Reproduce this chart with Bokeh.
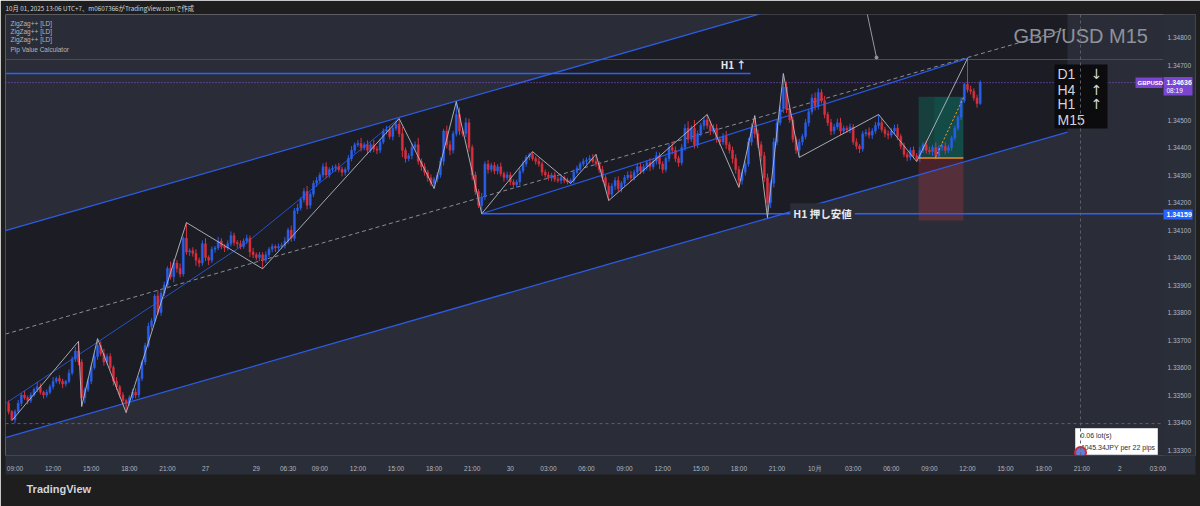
from bokeh.plotting import figure
from bokeh.models import (ColumnDataSource, FixedTicker, Label, LinearAxis, Range1d,
                          NumeralTickFormatter, Span, Title, BoxAnnotation)
from bokeh.core.properties import value
from bokeh.embed import file_html
from bokeh.resources import INLINE

# ---------------- data (GBP/USD M15) ----------------
# prices are in pips above BASE
BASE = 1.33
FIRST_BAR = -2          # bar index of first candle (09:00 Sep 26 = bar 0)
FIRST_OPEN = 47.0
CLOSE = [
    44, 41, 44, 47, 50, 49, 48, 50, 52, 53,
    51, 50, 51, 53, 55, 56, 55, 54, 55, 58,
    63, 66, 62, 49, 52, 55, 60, 64, 68, 65,
    62, 64, 60, 55, 53, 50, 48, 47, 49, 51,
    50, 56, 62, 68, 75, 77, 86, 80, 87, 90,
    96, 93, 98, 96, 94, 107, 102, 102.5, 101.5, 99,
    98, 105, 100, 99, 103, 103.5, 106, 104, 103.5, 105,
    108, 105.5, 105, 104, 106, 107, 102, 101, 100, 101,
    99, 101, 103, 104, 103.5, 104, 104.5, 106, 110, 107,
    117, 118, 121, 124, 119, 123, 127, 128, 130, 133,
    130, 132, 132.5, 133, 132, 131, 132, 136, 139, 141,
    141.5, 140, 141, 139, 141, 139.5, 139, 142, 146, 146.5,
    144, 147, 148.5, 145, 139, 136, 137, 140, 141, 135,
    133, 131, 129, 127, 128.5, 130, 135, 146, 141, 139,
    145, 152, 146, 145, 149, 140, 130, 124, 119, 122,
    134, 132, 133.5, 131.5, 133, 130.5, 129, 130, 127.5, 126.5,
    127.5, 131.5, 134, 136.5, 137.5, 136, 135, 134, 131, 130,
    129, 130, 128.5, 128, 129, 128, 127.5, 128, 131, 132.5,
    134, 135, 135.5, 136, 135, 134, 132, 129, 126, 123,
    126, 128, 125, 127, 129, 130, 129, 131, 133, 131.5,
    133, 134.5, 133, 135, 137, 134, 132, 136, 140, 139,
    136, 134.5, 140, 147, 143, 147, 141, 145, 148, 150,
    148, 146, 147, 143, 142, 144, 141, 139, 136, 132,
    128, 131, 134, 142, 147, 145, 141, 137, 129, 120,
    127, 142, 149, 154, 162, 154, 150, 143, 139, 142,
    144, 149, 153, 158, 155, 160, 157, 152, 149, 146,
    147.5, 149, 146, 147, 146.5, 147.5, 142, 140.5, 139.5, 145,
    145.5, 144.5, 146, 148, 149, 146.5, 145, 144.5, 146, 147,
    144, 140.5, 137.5, 136.5, 139, 137, 136, 139, 141, 139,
    138.5, 140, 137, 140, 140.5, 139, 140, 143.5, 147, 151,
    157, 163, 161, 160.5, 158, 156, 163.6,
]
UPPER_WICK = [
    1, 0.5, 0.8, 1.2, 0.6, 1.5, 0.8, 1, 0.7, 1.8,
    1.2, 0.6, 1, 0.8, 1.5, 0.7, 1.2, 0.9, 0.5, 1.3,
    1, 1.4, 3.5, 1, 0.8, 1.2, 0.9, 1.1, 2.5, 1.5,
    1.8, 1, 1.2, 0.8, 1.5, 0.7, 1, 0.6, 0.9, 1.2,
    1.5, 0.8, 0.6, 1, 1.3, 0.9, 0.7, 2, 1, 1.2,
    0.8, 2.5, 1.5, 1, 1.8, 0.6, 5.7, 0.8, 1.2, 1.5,
    1, 1.2, 2, 0.8, 1, 0.7, 1.5, 1, 0.8, 1.2,
    1.5, 1, 0.8, 1.2, 0.9, 1.3, 1, 1.5, 0.8, 1,
    0.9, 1.2, 0.8, 1, 0.7, 1.1, 0.9, 1.4, 0.8, 1.6,
    1, 1.5, 0.9, 1.2, 2, 0.8, 1, 1.3, 0.9, 1.2,
    1.6, 0.8, 1, 0.9, 1.4, 1, 0.8, 1.2, 1.5, 0.8,
    1.2, 2, 0.9, 1.6, 0.8, 1.8, 1, 1.2, 0.9, 1.4,
    1.2, 0.8, 1, 2, 2.5, 1, 0.9, 1.5, 1.2, 2.5,
    1, 1.3, 0.9, 1.2, 0.8, 1, 1.4, 0.8, 2, 1.5,
    1, 4.7, 2.5, 1.2, 1.8, 1.5, 1, 1.2, 0.9, 1.5,
    1, 1.4, 0.9, 1.2, 1, 1.5, 0.8, 1.2, 1, 0.9,
    0.8, 1, 1.2, 0.7, 0.6, 1, 0.8, 1.2, 0.9, 1,
    1.2, 0.8, 1, 0.9, 1.1, 0.8, 1, 0.7, 1, 0.9,
    0.8, 1, 0.9, 1.2, 1.6, 2.5, 1, 1.3, 0.9, 1.2,
    1, 1.2, 1.5, 0.8, 1, 1.3, 1.5, 0.9, 1.2, 1.5,
    1, 0.8, 1.6, 1, 1.5, 1.2, 1, 0.8, 1.5, 2,
    1.4, 1, 1.2, 1.5, 2.5, 1, 3, 1.2, 1, 1.2,
    2, 1.8, 1.4, 1.5, 1, 1.2, 2, 1, 1.3, 1.5,
    1.2, 1, 0.9, 1.5, 1.8, 4.6, 1.5, 1.2, 1.4, 1.5,
    1, 1.5, 1, 1.2, 4.9, 2, 1.5, 1.3, 1, 1.2,
    1, 1.3, 0.9, 1.5, 2, 1.5, 1.2, 1.8, 1, 1.4,
    1, 1.5, 1.8, 1, 0.9, 1.2, 1, 1.3, 0.8, 1,
    1.2, 1.8, 1, 1.3, 3, 1.5, 1, 1.2, 1, 1.3,
    1.5, 1, 1.2, 0.9, 1.1, 1.4, 1, 1.2, 0.9, 1.5,
    1.3, 1, 1.8, 0.9, 1.2, 1.4, 1, 0.8, 1, 0.7,
    1, 0.5, 9.4, 1.5, 1, 1.2, 0.8,
]
LOWER_WICK = [
    1, 0.3, 1.2, 0.8, 1, 0.7, 1.4, 0.9, 0.6, 1,
    0.8, 1.3, 0.9, 0.7, 1, 0.8, 1.1, 1.5, 0.9, 0.7,
    0.8, 1, 1.2, 3, 2, 0.9, 1, 0.8, 1.2, 0.9,
    1.3, 1, 0.8, 1.5, 1.2, 1, 1.5, 3.4, 1, 0.8,
    1.2, 1, 0.9, 1.1, 0.8, 1.5, 1, 0.9, 1.2, 1,
    1.3, 1, 2, 1.5, 1.2, 0.9, 1, 1.5, 1.2, 2,
    1.5, 1, 1.3, 1.8, 1, 1.2, 0.8, 1, 1.5, 0.9,
    1, 1.2, 1.5, 1, 0.8, 1, 1.8, 1.2, 1, 1.3,
    3.1, 1, 0.9, 1.1, 1.5, 1, 0.8, 1.2, 1, 1.3,
    1, 1.2, 0.9, 1, 1.5, 1.2, 1, 1.3, 0.8, 1,
    1.2, 1, 0.9, 1.3, 1, 1.5, 1.2, 0.9, 1, 1.1,
    0.8, 1.4, 1, 1.5, 0.9, 1.2, 1.4, 1, 0.8, 1.2,
    1, 1.4, 0.9, 1.2, 2.5, 1.5, 1, 1.3, 1, 1.2,
    1.5, 1.2, 1.4, 1, 1.9, 1.2, 1, 1.5, 1.3, 1.8,
    1.2, 1, 1.5, 1, 1.2, 1.5, 1.8, 1.2, 1, 3.1,
    1.2, 1.5, 1, 1.2, 1.3, 1, 1.4, 0.9, 1.2, 1,
    1, 1.2, 0.9, 1, 1.1, 0.8, 1.2, 1, 1.3, 0.9,
    1, 1.3, 1, 0.8, 1.2, 1, 0.9, 0.6, 1, 0.8,
    1, 0.9, 1.2, 1, 0.8, 1, 1.2, 1.4, 1.2, 2.3,
    1.2, 1.5, 1, 1.3, 1, 0.9, 1.2, 1, 1.5, 1.2,
    1, 1.3, 1.5, 1, 1.2, 1.8, 1.4, 1, 1.2, 1.5,
    1.3, 1.5, 1, 1.2, 1.5, 1, 1.4, 1.2, 1, 1.5,
    1.2, 1.5, 1, 1.3, 1.2, 1, 1.5, 1.2, 1.8, 1.5,
    2.5, 1.5, 1.2, 1, 1.3, 1.5, 1.2, 2, 1.5, 5.5,
    2, 1.5, 1.2, 1, 1.4, 1.5, 1, 1.2, 1.3, 2.6,
    1.2, 1, 1.3, 1, 1.5, 1.2, 1, 1.4, 1.2, 1.5,
    1.2, 1, 1.4, 1, 1.2, 1.3, 1, 1.2, 1.5, 1,
    1, 1.2, 1.4, 1, 1.2, 1, 1.3, 1.5, 1, 1.2,
    1.3, 1.2, 1, 1.5, 1.2, 1, 1.1, 1.3, 1, 1.2,
    1, 1.5, 1.3, 1, 1.2, 1.5, 1, 1.2, 1, 0.8,
    1, 0.8, 1, 1.2, 1, 1.5, 0.5,
]

# ZigZag++ pivots (bar index, price)
ZZ_BARS = [-1, 20, 21, 26, 35, 54, 78, 121, 132, 139, 147, 163, 175, 183, 187,
           218, 228, 233, 237, 242, 247, 272, 284, 300]
ZZ_PRICE = [1.33407, 1.33695, 1.33458, 1.33705, 1.33436, 1.34127, 1.33959, 1.34505,
            1.34251, 1.34567, 1.34159, 1.34385, 1.34269, 1.34375, 1.34207, 1.34520,
            1.34255, 1.34516, 1.34145, 1.34669, 1.34364, 1.34520, 1.34349, 1.34724]

# parallel channel
CH_BARS = [-3, 331.5]
CH_UPPER = [1.34098, 1.35207]
CH_LOWER = [1.33345, 1.34456]

# trend lines
TL1_BARS = [-3, 72.6, 120.8]
TL1_PRICE = [1.33469, 1.34051, 1.34505]
TL2_BARS = [147, 300]
TL2_PRICE = [1.34159, 1.34724]

H1_HIGH = 1.34669
H1_LOW = 1.34159
LAST_PRICE = 1.34636
TOP_LINE = 1.34720
CROSS_BAR = 335.6
CROSS_PRICE = 1.33396

# long position tool
POS_START, POS_MID, POS_END = 284.6, 289.6, 298.7
POS_TP, POS_ENTRY, POS_SL = 1.34585, 1.34362, 1.34135

TIME_TICKS = [0, 12, 24, 36, 48, 60, 76, 86, 96, 108, 120, 132, 144, 156, 168, 180,
              192, 204, 216, 228, 240, 252, 264, 276, 288, 300, 312, 324, 336, 348, 360]
TIME_LABELS = ["09:00", "12:00", "15:00", "18:00", "21:00", "27", "29", "06:30",
               "09:00", "12:00", "15:00", "18:00", "21:00", "30", "03:00", "06:00",
               "09:00", "12:00", "15:00", "18:00", "21:00", "10月", "03:00", "06:00",
               "09:00", "12:00", "15:00", "18:00", "21:00", "2", "03:00"]
PRICE_TICKS = [1.333, 1.334, 1.335, 1.336, 1.337, 1.338, 1.339, 1.340,
               1.341, 1.342, 1.343, 1.344, 1.345, 1.346, 1.347, 1.348]

TF_NAMES = ["D1", "H4", "H1", "M15"]
TF_ARROWS = ["↓", "↑", "↑"]
LEGEND_LINES = ["ZigZag++ [LD]", "ZigZag++ [LD]", "ZigZag++ [LD]", "Pip Value Calculator"]
HEADER = "10月 01, 2025 13:06 UTC+7、m0607366がTradingView.comで作成"

# ---------------- helpers (layout only: reference pixel -> data) ----------------
def px2x(X):
    return (X - 14.5) / 3.175

def py2y(Y):
    return 1.348 - (Y - 37) / 27500.0

UP_COL = "#2a5fea"
DN_COL = "#d8303e"
BG_OUT = "#2a2d38"
BG_IN = "#1c1d24"
AX_BG = "#2a2e39"
PURPLE = "#7a45d0"
FONT = "Liberation Sans"
JP = "Noto Sans CJK JP"

# ---------------- candles ----------------
opens, highs, lows, closes, xs, cols = [], [], [], [], [], []
prev = FIRST_OPEN
for k, c in enumerate(CLOSE):
    o = prev
    xs.append(FIRST_BAR + k)
    opens.append(BASE + o / 10000)
    closes.append(BASE + c / 10000)
    highs.append(BASE + (max(o, c) + UPPER_WICK[k]) / 10000)
    lows.append(BASE + (min(o, c) - LOWER_WICK[k]) / 10000)
    cols.append(UP_COL if c >= o else DN_COL)
    prev = c
src = ColumnDataSource(dict(x=xs, o=opens, h=highs, l=lows, c=closes, col=cols,
                            top=[max(a, b) for a, b in zip(opens, closes)],
                            bot=[min(a, b) for a, b in zip(opens, closes)]))

X0, X1 = px2x(5), px2x(1195)
p = figure(width=1200, height=506, x_range=Range1d(X0, X1),
           y_range=Range1d(py2y(455), py2y(14)), output_backend="svg",
           toolbar_location=None, x_axis_location=None, y_axis_location=None,
           min_border_left=5, min_border_right=5, min_border_top=14,
           min_border_bottom=51)
p.background_fill_color = BG_OUT
p.border_fill_color = "#1e1e1e"
p.outline_line_color = None
p.grid.grid_line_color = None

p.title.text = HEADER
p.title.align = "left"
p.title.text_font = JP
p.title.text_font_size = "6.3px"
p.title.text_font_style = "normal"
p.title.text_color = "#d1d4dc"
p.title.standoff = 3
p.title.offset = 0

xaxis = LinearAxis(ticker=FixedTicker(ticks=TIME_TICKS),
                   major_label_overrides=dict(zip(TIME_TICKS, TIME_LABELS)))
yaxis = LinearAxis(ticker=FixedTicker(ticks=PRICE_TICKS),
                   formatter=NumeralTickFormatter(format="0.00000"))
for ax in (xaxis, yaxis):
    ax.axis_line_color = None
    ax.major_tick_line_color = None
    ax.minor_tick_line_color = None
    ax.major_tick_out = 0
    ax.major_tick_in = 0
    ax.major_label_text_font_size = "6.5px"
    ax.major_label_text_color = "#b2b5be"
    ax.major_label_text_font = FONT
xaxis.background_fill_color = AX_BG
xaxis.major_label_standoff = 9
yaxis.major_label_standoff = -28
p.add_layout(xaxis, "below")
p.add_layout(yaxis, "right")
p.add_layout(Title(text="TradingView", align="left", offset=21, standoff=12,
                   text_font=FONT, text_font_size="11px", text_font_style="bold",
                   text_color="#d1d4dc"), "below")

# channel fill
p.patch([CH_BARS[0], CH_BARS[1], CH_BARS[1], CH_BARS[0]],
        [CH_UPPER[0], CH_UPPER[1], CH_LOWER[1], CH_LOWER[0]],
        fill_color=BG_IN, line_color=None)

# horizontal references
p.line([X0, px2x(1163)], [TOP_LINE, TOP_LINE], line_color="#4a4d58", line_width=1)
p.line([X0, px2x(1163)], [CROSS_PRICE, CROSS_PRICE], line_color="#5d606b",
       line_width=1, line_dash="3 3")
p.add_layout(Span(location=CROSS_BAR, dimension="height", line_color="#5d606b",
                  line_width=1, line_dash="3 3"))

# position tool
p.quad(left=POS_START, right=POS_END, bottom=POS_ENTRY, top=POS_TP,
       fill_color="#089981", fill_alpha=0.28, line_color=None)
p.quad(left=POS_MID, right=POS_END, bottom=POS_ENTRY, top=POS_TP,
       fill_color="#089981", fill_alpha=0.15, line_color=None)
p.quad(left=POS_START, right=POS_END, bottom=POS_SL, top=POS_ENTRY,
       fill_color="#f23645", fill_alpha=0.22, line_color=None)

# channel lines
p.line(CH_BARS, CH_UPPER, line_color="#2d5be3", line_width=1.3)
p.line(CH_BARS, CH_LOWER, line_color="#2d5be3", line_width=1.3)
p.line(CH_BARS, [(a + b) / 2 for a, b in zip(CH_UPPER, CH_LOWER)],
       line_color="#8a8d96", line_width=1, line_dash="4 3")

# key lines
p.line([px2x(5), px2x(750)], [H1_HIGH, H1_HIGH], line_color="#2962ff", line_width=1.5)
p.line([147, px2x(1163)], [H1_LOW, H1_LOW], line_color="#2962ff", line_width=1.5)
p.line([X0, px2x(1135)], [LAST_PRICE, LAST_PRICE], line_color="#8a55e0",
       line_width=1, line_dash="1 2")

# candles
p.segment(x0="x", x1="x", y0="l", y1="h", color="col", line_width=1, source=src)
p.vbar(x="x", top="top", bottom="bot", width=0.62, fill_color="col",
       line_color="col", line_width=0.5, source=src)

# trend lines & zigzag
p.line(TL1_BARS, TL1_PRICE, line_color="#2962ff", line_width=1, line_alpha=0.75)
p.line(TL2_BARS, TL2_PRICE, line_color="#2962ff", line_width=1.2, line_alpha=0.85)
p.line(ZZ_BARS, ZZ_PRICE, line_color="#b6b9c1", line_width=1, line_alpha=0.9)

# entry line + projected path
p.line([POS_START, POS_END], [POS_ENTRY, POS_ENTRY], line_color="#e8912a", line_width=1.5)
p.line([px2x(935), px2x(963)], [1.34364, 1.34582], line_color="#f0a040",
       line_width=1, line_dash="2 2")

# grey arrow line near top
p.line([px2x(866), px2x(876)], [py2y(10), py2y(57)], line_color="#9598a1", line_width=1)
p.scatter([px2x(876)], [py2y(57)], size=3, color="#9598a1")

# price-scale column background (inside the frame, right of the chart pane)
p.quad(left=px2x(1163), right=X1 + 1, bottom=py2y(460), top=py2y(10),
       fill_color=AX_BG, line_color=None)

# labels on lines
p.add_layout(Label(x=px2x(733), y=py2y(64), text="H1 ↑", text_color="#e8e9ec",
                   text_font=JP, text_font_size="10px", text_font_style="bold",
                   text_align="center", text_baseline="middle"))
p.add_layout(Label(x=px2x(822), y=H1_LOW, text="H1 押し安値", text_color="#e8e9ec",
                   text_font=JP, text_font_size="10.5px", text_font_style="bold",
                   text_align="center", text_baseline="middle",
                   background_fill_color=BG_OUT, padding=3))

# title
p.text([px2x(1013)], [py2y(35)], text=["GBP/USD M15"], text_font=value(FONT),
       text_font_size="20px", text_color="#8f929b", text_baseline="middle",
       text_align="left")

# timeframe table
p.quad(left=px2x(1054), right=px2x(1107), bottom=py2y(128), top=py2y(64),
       fill_color="#0b0b0d", fill_alpha=0.95, line_color=None)
p.text([px2x(1057)] * 4, [py2y(73), py2y(89), py2y(103), py2y(119)], text=TF_NAMES,
       text_font=value(FONT), text_font_size="14px", text_color="#d1d4dc",
       text_baseline="middle", text_align="left")
p.text([px2x(1096)] * 3, [py2y(73), py2y(89), py2y(103)], text=TF_ARROWS,
       text_font=value("DejaVu Sans"), text_font_size="14px", text_color="#d1d4dc",
       text_baseline="middle", text_align="center")

# legend (top-left)
p.text([px2x(10)] * 4, [py2y(22.7), py2y(31), py2y(39.3), py2y(48.7)],
       text=LEGEND_LINES, text_font=value(FONT), text_font_size="6.5px",
       text_color="#b2b5be", text_baseline="middle", text_align="left")

# pip calculator tooltip + event marker
p.quad(left=px2x(1075), right=px2x(1157), bottom=py2y(454), top=py2y(428),
       fill_color="#ffffff", line_color="#d0d3da")
p.text([px2x(1080)] * 2, [py2y(435), py2y(447)],
       text=["0.06 lot(s)", "4045.34JPY per 22 pips"], text_font=value(FONT),
       text_font_size="7px", text_color="#2a2e39", text_baseline="middle",
       text_align="left")
p.scatter([CROSS_BAR], [py2y(452)], size=11, fill_color="#5b7fe0",
          line_color="#d12a35", line_width=2)

# price-scale tags (annotation level, drawn above the axis labels)
p.add_layout(BoxAnnotation(left=px2x(1135), right=px2x(1162), bottom=py2y(87.5),
                           top=py2y(77), fill_color=PURPLE, fill_alpha=1.0,
                           line_color=None))
p.add_layout(BoxAnnotation(left=px2x(1163), right=px2x(1192), bottom=py2y(95),
                           top=py2y(76.5), fill_color=PURPLE, fill_alpha=1.0,
                           line_color=None))
p.add_layout(BoxAnnotation(left=px2x(1163), right=px2x(1192), bottom=py2y(219),
                           top=py2y(209), fill_color="#2962ff", fill_alpha=1.0,
                           line_color=None))
p.add_layout(Label(x=px2x(1137), y=py2y(82.3), text="GBPUSD",
                   text_font=FONT, text_font_size="6px", text_font_style="bold",
                   text_color="#ffffff", text_baseline="middle"))
p.add_layout(Label(x=px2x(1166), y=py2y(82), text="1.34636",
                   text_font=FONT, text_font_size="7px", text_font_style="bold",
                   text_color="#ffffff", text_baseline="middle"))
p.add_layout(Label(x=px2x(1166), y=py2y(90), text="08:19",
                   text_font=FONT, text_font_size="6.5px", text_color="#ffffff",
                   text_baseline="middle"))
p.add_layout(Label(x=px2x(1166), y=py2y(214), text="1.34159",
                   text_font=FONT, text_font_size="7px", text_font_style="bold",
                   text_color="#ffffff", text_baseline="middle"))

open("out.html", "w").write(file_html(p, INLINE))
